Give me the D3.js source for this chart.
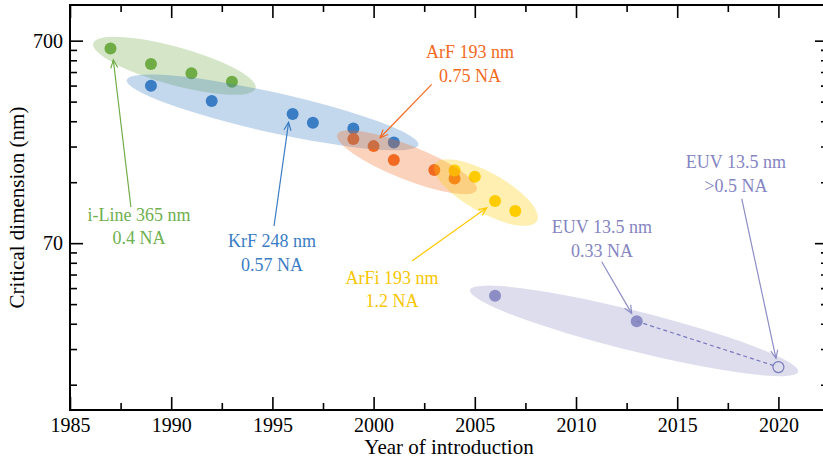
<!DOCTYPE html>
<html>
<head>
<meta charset="utf-8">
<script src="https://cdn.jsdelivr.net/npm/d3@7"></script>
<style>
  html, body { margin: 0; padding: 0; background: #fff; }
  svg { display: block; font-family: "Liberation Serif", "Times New Roman", serif; }
</style>
</head>
<body>
<div id="chart"></div>
<script>
// ==== Data (year of introduction, critical dimension in nm) ====
const iLineYears = [1987, 1989, 1991, 1993];
const iLineCD    = [640, 537, 483, 439];

const krfYears = [1989, 1992, 1996, 1997, 1999, 2001];
const krfCD    = [419, 352, 304, 275, 258, 220];

const arfYears = [1999, 2000, 2001, 2003, 2004];
const arfCD    = [229, 211, 180, 161, 146];

const arfiYears = [2004, 2005, 2006, 2007];
const arfiCD    = [160, 149, 113, 101];

const euvYears = [2006, 2013];
const euvCD    = [38.5, 28.8];

const euvHighNaYears = [2020];
const euvHighNaCD    = [17.1];

const xMajorTicks = [1985, 1990, 1995, 2000, 2005, 2010, 2015, 2020];
const xMinorTicks = [1987.5, 1992.5, 1997.5, 2002.5, 2007.5, 2012.5, 2017.5];
const yMajorTicks = [70, 700];
const yMinorTicks = [14, 21, 28, 35, 42, 49, 56, 63, 140, 210, 280, 350, 420, 490, 560, 630];

// envelope ends (year, nm) for each technology
const envelopes = [
  { key: "iline", ends: [[1986.15, 679], [1994.17, 407]] },
  { key: "krf",   ends: [[1987.8, 448], [2002.21, 214]] },
  { key: "arf",   ends: [[1998.21, 241], [2005.09, 128]] },
  { key: "arfi",  ends: [[2003.03, 172], [2008.07, 90]] },
  { key: "euv",   ends: [[2004.76, 41.1], [2020.98, 16.2]] }
];

// labels: text anchor, arrow start, arrow tip (year, nm)
const labels = [
  { key: "iline", lines: ["i-Line 365 nm", "0.4 NA"], at: [1988.41, 90.4], from: [1988.01, 105.6], to: [1987.14, 562] },
  { key: "krf",   lines: ["KrF 248 nm", "0.57 NA"],   at: [1994.98, 66.8], from: [1995.08, 85.1],  to: [1995.8, 276.6] },
  { key: "arf",   lines: ["ArF 193 nm", "0.75 NA"],   at: [2004.76, 572.8], from: [2002.87, 426], to: [2000.32, 232] },
  { key: "arfi",  lines: ["ArFi 193 nm", "1.2 NA"],   at: [2000.91, 44.0], from: [2001.9, 57.2],   to: [2005.59, 104.6] },
  { key: "euv",   lines: ["EUV 13.5 nm", "0.33 NA"],  at: [2011.28, 78.3], from: [2011.27, 56.7], to: [2012.75, 31.5] },
  { key: "euv",   lines: ["EUV 13.5 nm", ">0.5 NA"],  at: [2017.9, 164],   from: [2018.19, 115.7], to: [2019.88, 18.9] }
];

const colors = {
  iline: "#70ad47",
  krf: "#3a7dc4",
  arf: "#f26a21",
  arfi: "#ffcc00",
  euv: "#8d8dc6"
};

const series = [
  { key: "iline", years: iLineYears, cd: iLineCD },
  { key: "krf",   years: krfYears,   cd: krfCD },
  { key: "arf",   years: arfYears,   cd: arfCD },
  { key: "arfi",  years: arfiYears,  cd: arfiCD },
  { key: "euv",   years: euvYears,   cd: euvCD }
];

// ==== Setup ====
const W = 823, H = 462;
const margin = { top: 5, right: -5, bottom: 52, left: 70 };
const width = W - margin.left - margin.right;
const height = H - margin.top - margin.bottom;

const svg = d3.select("#chart")
  .append("svg")
  .attr("width", W)
  .attr("height", H);

const g = svg.append("g")
  .attr("transform", `translate(${margin.left},${margin.top})`);

const x = d3.scaleLinear().domain([1985, 2022.45]).range([0, width]);
const y = d3.scaleLog().domain([10.5, 1050]).range([height, 0]);

const defs = svg.append("defs");
Object.entries(colors).forEach(([k, c]) => {
  defs.append("marker")
    .attr("id", "arrow-" + k)
    .attr("markerUnits", "userSpaceOnUse")
    .attr("viewBox", "-10 -5 12 10")
    .attr("refX", 0).attr("refY", 0)
    .attr("markerWidth", 12).attr("markerHeight", 10)
    .attr("orient", "auto")
    .append("path")
    .attr("d", "M-8,-3.5L0,0L-8,3.5")
    .attr("fill", "none")
    .attr("stroke", c)
    .attr("stroke-width", 1.2);
});

// ==== Points (drawn under the envelopes) ====
series.forEach(s => {
  g.append("g").selectAll("circle")
    .data(s.years.map((yr, i) => ({ yr, cd: s.cd[i] })))
    .join("circle")
    .attr("cx", d => x(d.yr))
    .attr("cy", d => y(d.cd))
    .attr("r", 6)
    .attr("fill", colors[s.key]);
});

// dashed link to the future EUV node
g.append("line")
  .attr("x1", x(euvYears[1])).attr("y1", y(euvCD[1]))
  .attr("x2", x(euvHighNaYears[0])).attr("y2", y(euvHighNaCD[0]))
  .attr("stroke", "#6f6fb8")
  .attr("stroke-width", 1.2)
  .attr("stroke-dasharray", "4,3");

g.append("circle")
  .attr("cx", x(euvHighNaYears[0]))
  .attr("cy", y(euvHighNaCD[0]))
  .attr("r", 5.5)
  .attr("fill", "#fff")
  .attr("stroke", "#6f6fb8")
  .attr("stroke-width", 1.2);

// ==== Envelopes ====
const minorRadius = { iline: 19, krf: 20, arf: 17, arfi: 20, euv: 20 };
envelopes.forEach(e => {
  const [a, b] = e.ends.map(p => [x(p[0]), y(p[1])]);
  const cx = (a[0] + b[0]) / 2, cy = (a[1] + b[1]) / 2;
  const rx = Math.hypot(b[0] - a[0], b[1] - a[1]) / 2;
  const ang = Math.atan2(b[1] - a[1], b[0] - a[0]) * 180 / Math.PI;
  g.append("ellipse")
    .attr("transform", `translate(${cx},${cy}) rotate(${ang})`)
    .attr("rx", rx)
    .attr("ry", minorRadius[e.key])
    .attr("fill", colors[e.key])
    .attr("fill-opacity", 0.3);
});

// ==== Labels & arrows ====
const textColors = { iline: "#6fb04f", krf: "#3a7dc4", arf: "#f26a21", arfi: "#f7c600", euv: "#8585c2" };
labels.forEach(l => {
  g.append("line")
    .attr("x1", x(l.from[0])).attr("y1", y(l.from[1]))
    .attr("x2", x(l.to[0])).attr("y2", y(l.to[1]))
    .attr("stroke", colors[l.key] === "#ffcc00" ? "#ffc800" : colors[l.key])
    .attr("stroke-width", 1.2)
    .attr("marker-end", `url(#arrow-${l.key})`);

  const t = g.append("text")
    .attr("x", x(l.at[0]))
    .attr("y", y(l.at[1]))
    .attr("text-anchor", "middle")
    .attr("font-size", 18)
    .attr("fill", textColors[l.key]);
  l.lines.forEach((line, i) => {
    t.append("tspan")
      .attr("x", x(l.at[0]))
      .attr("dy", i === 0 ? 0 : 23.5)
      .text(line);
  });
});

// ==== Axes ====
function styleAxis(sel) {
  sel.select(".domain").remove();
  sel.selectAll("line").attr("stroke", "#000").attr("stroke-width", 1.6);
  sel.selectAll("text").attr("font-size", 20).attr("fill", "#000")
    .attr("font-family", "Liberation Serif, Times New Roman, serif");
}

// bottom
g.append("g").attr("transform", `translate(0,${height})`)
  .call(d3.axisBottom(x).tickValues(xMajorTicks).tickFormat(d3.format("d")).tickSize(-13).tickPadding(8))
  .call(styleAxis);
g.append("g").attr("transform", `translate(0,${height})`)
  .call(d3.axisBottom(x).tickValues(xMinorTicks).tickFormat("").tickSize(-7))
  .call(styleAxis);
// top
g.append("g")
  .call(d3.axisTop(x).tickValues(xMajorTicks).tickFormat("").tickSize(-13))
  .call(styleAxis);
g.append("g")
  .call(d3.axisTop(x).tickValues(xMinorTicks).tickFormat("").tickSize(-7))
  .call(styleAxis);
// left
g.append("g")
  .call(d3.axisLeft(y).tickValues(yMajorTicks).tickFormat(d3.format("d")).tickSize(-13).tickPadding(7))
  .call(styleAxis);
g.append("g")
  .call(d3.axisLeft(y).tickValues(yMinorTicks).tickFormat("").tickSize(-7))
  .call(styleAxis);
// right
g.append("g").attr("transform", `translate(${width},0)`)
  .call(d3.axisRight(y).tickValues(yMajorTicks).tickFormat("").tickSize(-13))
  .call(styleAxis);
g.append("g").attr("transform", `translate(${width},0)`)
  .call(d3.axisRight(y).tickValues(yMinorTicks).tickFormat("").tickSize(-7))
  .call(styleAxis);

// frame
g.append("rect")
  .attr("width", width).attr("height", height)
  .attr("fill", "none")
  .attr("stroke", "#000")
  .attr("stroke-width", 2);

// titles
g.append("text")
  .attr("x", width / 2)
  .attr("y", height + 44)
  .attr("text-anchor", "middle")
  .attr("font-size", 21)
  .text("Year of introduction");

g.append("text")
  .attr("transform", `translate(${-46},${height / 2}) rotate(-90)`)
  .attr("text-anchor", "middle")
  .attr("font-size", 21)
  .text("Critical dimension (nm)");
</script>
</body>
</html>
